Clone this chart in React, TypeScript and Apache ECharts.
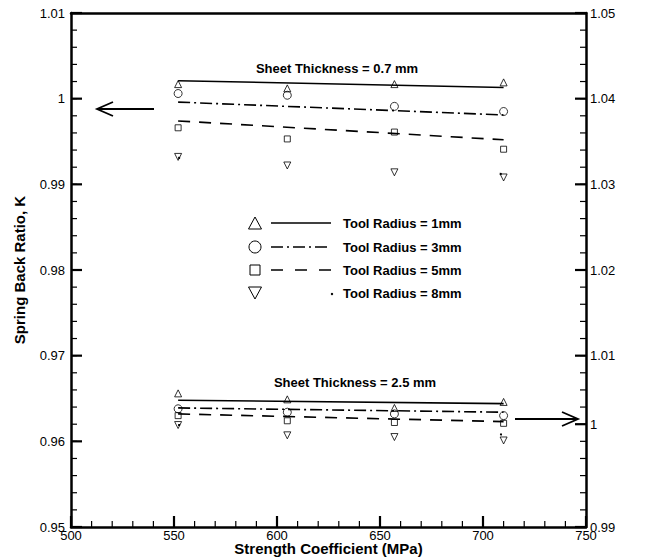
import React, { useEffect, useRef } from "react";
import * as echarts from "echarts";

// Strength coefficient (MPa), as positioned in the picture
const xValues = [552, 605, 657, 710];
const fitX = [552, 710];

// Sheet thickness = 0.7 mm (left axis)
const t07_r1 = [1.0017, 1.0012, 1.0017, 1.0019];
const t07_r3 = [1.0006, 1.0004, 0.9991, 0.9985];
const t07_r5 = [0.9966, 0.9953, 0.9961, 0.9941];
const t07_r8 = [0.9932, 0.9922, 0.9914, 0.9908];
const t07_fit1 = [1.0021, 1.0013];
const t07_fit3 = [0.9996, 0.9981];
const t07_fit5 = [0.9974, 0.9952];
const t07_fit8 = [0.9931, 0.9912];

// Sheet thickness = 2.5 mm (right axis)
const t25_r1 = [1.0056, 1.0049, 1.0039, 1.0046];
const t25_r3 = [1.0038, 1.0034, 1.0032, 1.003];
const t25_r5 = [1.003, 1.0024, 1.0022, 1.0021];
const t25_r8 = [1.0019, 1.0007, 1.0005, 1.0001];
const t25_fit1 = [1.0048, 1.0044];
const t25_fit3 = [1.0039, 1.0034];
const t25_fit5 = [1.0032, 1.0023];
const t25_fit8 = [1.0019, 1.0008];

// tick labels
const xTickValues = [500, 550, 600, 650, 700, 750];
const leftTickValues = [0.95, 0.96, 0.97, 0.98, 0.99, 1, 1.01];
const rightTickValues = [0.99, 1.002, 1.01, 1.02, 1.03, 1.04, 1.05];
const rightTickLabels = ["0.99", "1", "1.01", "1.02", "1.03", "1.04", "1.05"];

const radiusLabels = [
  "Tool Radius = 1mm",
  "Tool Radius = 3mm",
  "Tool Radius = 5mm",
  "Tool Radius = 8mm",
];
const thicknessLabels = ["Sheet Thickness = 0.7 mm", "Sheet Thickness = 2.5 mm"];

const FONT = '"Liberation Sans", Arial, Helvetica, sans-serif';

const symbols = ["triangle", "circle", "rect", "triangle"];
const symbolRotates = [0, 0, 0, 180];
const symbolSizes = [7, 8, 6, 7];
const dashTypes: any[] = ["solid", [12, 4, 2, 4], [12, 9], [2, 320]];

// minor tick positions (axis decoration)
const xMinorTicks = Array.from({ length: 26 }, (_, i) => 500 + i * 10);
const leftMinorTicks = Array.from({ length: 31 }, (_, i) => +(0.95 + i * 0.002).toFixed(3));
const rightMinorTicks = Array.from({ length: 31 }, (_, i) => +(0.99 + i * 0.002).toFixed(3));

const TICK_COLOR = "#000";

// a custom series that draws tick marks through the axes' own scales
function tickSeries(points: number[][], yAxisIndex: number, dx: number, dy: number, width: number) {
  return {
    type: "custom",
    xAxisIndex: 0,
    yAxisIndex,
    clip: false,
    silent: true,
    z: 10,
    data: points,
    renderItem: (_params: any, api: any) => {
      const p = api.coord([api.value(0), api.value(1)]);
      return {
        type: "line",
        shape: { x1: p[0], y1: p[1], x2: p[0] + dx, y2: p[1] + dy },
        style: { stroke: TICK_COLOR, lineWidth: width, fill: null },
      };
    },
  };
}

export default function App() {
  const ref = useRef<HTMLDivElement>(null);
  useEffect(() => {
    const chart = echarts.init(ref.current!, null, { renderer: "svg" });

    const groups = [
      { data: [t07_r1, t07_r3, t07_r5, t07_r8], fits: [t07_fit1, t07_fit3, t07_fit5, t07_fit8], axis: 0 },
      { data: [t25_r1, t25_r3, t25_r5, t25_r8], fits: [t25_fit1, t25_fit3, t25_fit5, t25_fit8], axis: 1 },
    ];
    const series: any[] = [];
    groups.forEach((g) => {
      g.data.forEach((vals, k) => {
        series.push({
          type: "scatter",
          yAxisIndex: g.axis,
          symbol: symbols[k],
          symbolRotate: symbolRotates[k],
          symbolSize: symbolSizes[k],
          itemStyle: { color: "rgba(0,0,0,0)", borderColor: "#000", borderWidth: 1 },
          data: xValues.map((x, i) => [x, vals[i]]),
          silent: true,
        });
      });
      g.fits.forEach((vals, k) => {
        series.push({
          type: "line",
          yAxisIndex: g.axis,
          symbol: "none",
          lineStyle: { color: "#000", width: k === 3 ? 2 : 1.6, type: dashTypes[k] },
          data: fitX.map((x, i) => [x, vals[i]]),
          silent: true,
        });
      });
    });

    // axis ticks (inside)
    series.push(tickSeries(xMinorTicks.map((v) => [v, 0.95]), 0, 0, -6, 1.2));
    series.push(tickSeries(xTickValues.map((v) => [v, 0.95]), 0, 0, -11, 2.2));
    series.push(tickSeries(leftMinorTicks.map((v) => [500, v]), 0, 6, 0, 1.2));
    series.push(tickSeries(leftTickValues.map((v) => [500, v]), 0, 11, 0, 2.2));
    series.push(tickSeries(rightMinorTicks.map((v) => [750, v]), 1, -6, 0, 1.2));
    series.push(tickSeries(rightTickValues.map((v) => [750, v]), 1, -11, 0, 2.2));

    const fmt = (v: number) => String(+v.toFixed(2));
    const axisLine = { show: true, onZero: false, lineStyle: { color: "#000", width: 2.5 } };
    const labelBase = { show: true, color: "#000", fontSize: 13, fontFamily: FONT };

    // legend graphics
    const legendX = 255;
    const rowsY = [223, 247, 270, 293];
    const legend: any[] = [];
    rowsY.forEach((y, k) => {
      if (k === 0) {
        legend.push({ type: "polygon", shape: { points: [[legendX, y - 6], [legendX - 6.5, y + 6], [legendX + 6.5, y + 6]] }, style: { fill: "none", stroke: "#000", lineWidth: 1 } });
      } else if (k === 1) {
        legend.push({ type: "circle", shape: { cx: legendX, cy: y, r: 6 }, style: { fill: "none", stroke: "#000", lineWidth: 1 } });
      } else if (k === 2) {
        legend.push({ type: "rect", shape: { x: legendX - 5, y: y - 5, width: 10, height: 10 }, style: { fill: "none", stroke: "#000", lineWidth: 1 } });
      } else {
        legend.push({ type: "polygon", shape: { points: [[legendX, y + 6], [legendX - 6.5, y - 6], [legendX + 6.5, y - 6]] }, style: { fill: "none", stroke: "#000", lineWidth: 1 } });
      }
      if (k < 3) {
        legend.push({ type: "line", shape: { x1: 271, y1: y, x2: 331, y2: y }, style: { stroke: "#000", lineWidth: 1.6, lineDash: k === 0 ? null : k === 1 ? [12, 4, 2, 4] : [12, 12] } });
      } else {
        legend.push({ type: "circle", shape: { cx: 332, cy: y + 1, r: 1.2 }, style: { fill: "#000" } });
      }
      legend.push({
        type: "text",
        x: 343,
        y,
        style: { text: radiusLabels[k], font: `bold 13px ${FONT}`, fill: "#000", textAlign: "left", textVerticalAlign: "middle" },
      });
    });

    const arrowStyle = { stroke: "#000", lineWidth: 1.8, fill: "none" };

    chart.setOption({
      animation: false,
      backgroundColor: "#fff",
      grid: { left: 71, right: 80, top: 13, bottom: 31, outerBoundsMode: "none", containLabel: false },
      xAxis: [
        {
          type: "value",
          min: 500,
          max: 750,
          interval: 50,
          position: "bottom",
          name: "Strength Coefficient (MPa)",
          nameLocation: "middle",
          nameGap: 14,
          nameMoveOverlap: false,
          nameTextStyle: { color: "#000", fontSize: 15, fontWeight: "bold", fontFamily: FONT },
          axisLine,
          axisTick: { show: false },
          splitLine: { show: false },
          axisLabel: { ...labelBase, margin: 2, customValues: xTickValues },
        },
        {
          type: "value",
          min: 500,
          max: 750,
          position: "top",
          axisLine,
          axisTick: { show: false },
          axisLabel: { show: false },
          splitLine: { show: false },
        },
      ],
      yAxis: [
        {
          type: "value",
          position: "left",
          min: 0.95,
          max: 1.01,
          interval: 0.01,
          name: "Spring Back Ratio, K",
          nameLocation: "middle",
          nameGap: 44,
          nameMoveOverlap: false,
          nameTextStyle: { color: "#000", fontSize: 15, fontWeight: "bold", fontFamily: FONT },
          axisLine,
          axisTick: { show: false },
          splitLine: { show: false },
          axisLabel: { ...labelBase, formatter: fmt, margin: 6, customValues: leftTickValues },
        },
        {
          type: "value",
          position: "right",
          min: 0.99,
          max: 1.05,
          axisLine,
          axisTick: { show: false },
          splitLine: { show: false },
          axisLabel: {
            ...labelBase,
            margin: 4,
            customValues: rightTickValues,
            formatter: (v: number) => {
              const i = rightTickValues.findIndex((t) => Math.abs(t - v) < 1e-6);
              return i >= 0 ? rightTickLabels[i] : "";
            },
          },
        },
      ],
      graphic: [
        { type: "text", x: 337, y: 68, style: { text: thicknessLabels[0], font: `bold 13px ${FONT}`, fill: "#000", textAlign: "center", textVerticalAlign: "middle" } },
        { type: "text", x: 355, y: 382, style: { text: thicknessLabels[1], font: `bold 13px ${FONT}`, fill: "#000", textAlign: "center", textVerticalAlign: "middle" } },
        { type: "line", shape: { x1: 154, y1: 109, x2: 97, y2: 109 }, style: arrowStyle },
        { type: "polyline", shape: { points: [[113, 102], [97, 109], [113, 116]] }, style: arrowStyle },
        { type: "line", shape: { x1: 515, y1: 419, x2: 578, y2: 419 }, style: arrowStyle },
        { type: "polyline", shape: { points: [[562, 412], [578, 419], [562, 426]] }, style: arrowStyle },
        ...legend,
      ],
      series,
    });
    return () => chart.dispose();
  }, []);
  return <div ref={ref} style={{ position: "fixed", left: 0, top: 0, width: 666, height: 558 }} />;
}
